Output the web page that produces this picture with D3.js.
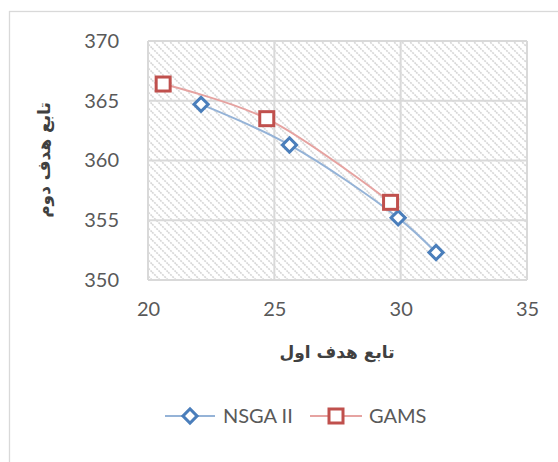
<!DOCTYPE html>
<html><head><meta charset="utf-8">
<script src="https://cdn.jsdelivr.net/npm/d3@7"></script>
<style>body{margin:0;background:#fff}svg{display:block}</style>
</head><body>
<script>
const xTicks = [20, 25, 30, 35];
const yTicks = [350, 355, 360, 365, 370];
const nsgaX = [22.1, 25.6, 29.9, 31.4];
const nsgaY = [364.7, 361.3, 355.2, 352.3];
const gamsX = [20.6, 24.7, 29.6];
const gamsY = [366.4, 363.5, 356.5];
const seriesNames = ["NSGA II", "GAMS"];
const xTitle = "تابع هدف اول";
const yTitle = "تابع هدف دوم";

const W = 558, H = 462;
const svg = d3.select("body").append("svg").attr("width", W).attr("height", H);
const defs = svg.append("defs");
const pat = defs.append("pattern").attr("id", "hatch").attr("patternUnits", "userSpaceOnUse")
  .attr("width", 8).attr("height", 8);
pat.append("rect").attr("width", 8).attr("height", 8).attr("fill", "#fff");
pat.append("path").attr("d", "M-2,-2 L10,10 M-2,6 L2,10 M6,-2 L10,2").attr("stroke", "#d6d6d6").attr("stroke-width", 1.6).attr("stroke-dasharray", "2,1");

// outer frame
svg.append("rect").attr("x", 9.5).attr("y", 11.5).attr("width", W + 10).attr("height", H + 10)
  .attr("fill", "none").attr("stroke", "#d9d9d9").attr("stroke-width", 1.3);

const x = d3.scaleLinear().domain([20, 35]).range([148, 527]);
const y = d3.scaleLinear().domain([350, 370]).range([280, 41]);

svg.append("rect").attr("x", 148).attr("y", 41).attr("width", 379).attr("height", 239).attr("fill", "url(#hatch)");

// gridlines
const grid = svg.append("g").attr("stroke", "#d9d9d9").attr("stroke-width", 2);
xTicks.forEach(t => grid.append("line").attr("x1", x(t)).attr("x2", x(t)).attr("y1", 41).attr("y2", 280));
yTicks.forEach(t => grid.append("line").attr("x1", 148).attr("x2", 527).attr("y1", y(t)).attr("y2", y(t)));

// axes
const font = "Lato, 'Open Sans', sans-serif";
const xAxis = svg.append("g").attr("transform", "translate(0,280)")
  .call(d3.axisBottom(x).tickValues(xTicks).tickSize(0).tickPadding(22));
const yAxis = svg.append("g").attr("transform", "translate(148,0)")
  .call(d3.axisLeft(y).tickValues(yTicks).tickSize(0).tickPadding(29));
[xAxis, yAxis].forEach(a => {
  a.select(".domain").remove();
  a.selectAll("text").attr("font-family", font).attr("font-size", 20).attr("fill", "#595959");
});

svg.append("text").attr("x", 337).attr("y", 358).attr("text-anchor", "middle")
  .attr("font-family", "'DejaVu Sans', 'Noto Sans', sans-serif").attr("font-weight", "bold").attr("font-size", 17).attr("fill", "#404040")
  .attr("direction", "rtl").text(xTitle);
svg.append("text").attr("transform", "translate(50,160) rotate(-90)").attr("text-anchor", "middle")
  .attr("font-family", "'DejaVu Sans', 'Noto Sans', sans-serif").attr("font-weight", "bold").attr("font-size", 17).attr("fill", "#404040")
  .attr("direction", "rtl").text(yTitle);

const line = d3.line().x(d => x(d[0])).y(d => y(d[1])).curve(d3.curveCatmullRom.alpha(0.5));
const nsga = nsgaX.map((v, i) => [v, nsgaY[i]]);
const gams = gamsX.map((v, i) => [v, gamsY[i]]);
const blueLine = "#95b3d7", blueMk = "#4a7ebb", redLine = "#e6a3a1", redMk = "#c0504d";

svg.append("path").datum(nsga).attr("d", line).attr("fill", "none").attr("stroke", blueLine).attr("stroke-width", 2);
svg.append("path").datum(gams).attr("d", line).attr("fill", "none").attr("stroke", redLine).attr("stroke-width", 2);

function diamond(g, cx, cy) {
  g.append("rect").attr("x", -5).attr("y", -5).attr("width", 10).attr("height", 10)
    .attr("transform", `translate(${cx},${cy}) rotate(45)`)
    .attr("fill", "#fff").attr("stroke", blueMk).attr("stroke-width", 3);
}
function square(g, cx, cy) {
  g.append("rect").attr("x", cx - 7).attr("y", cy - 7).attr("width", 14).attr("height", 14)
    .attr("fill", "#fff").attr("stroke", redMk).attr("stroke-width", 3);
}
const mk = svg.append("g");
nsga.forEach(d => diamond(mk, x(d[0]), y(d[1])));
gams.forEach(d => square(mk, x(d[0]), y(d[1])));

// legend
const lg = svg.append("g");
lg.append("line").attr("x1", 165).attr("x2", 215).attr("y1", 416).attr("y2", 416).attr("stroke", blueLine).attr("stroke-width", 2);
diamond(lg, 190, 416);
lg.append("text").attr("x", 223).attr("y", 423).attr("font-family", font).attr("font-size", 20).attr("fill", "#595959").text(seriesNames[0]);
lg.append("line").attr("x1", 310).attr("x2", 362).attr("y1", 416).attr("y2", 416).attr("stroke", redLine).attr("stroke-width", 2);
square(lg, 336, 416);
lg.append("text").attr("x", 369).attr("y", 423).attr("font-family", font).attr("font-size", 20).attr("fill", "#595959").text(seriesNames[1]);
</script>
</body></html>
